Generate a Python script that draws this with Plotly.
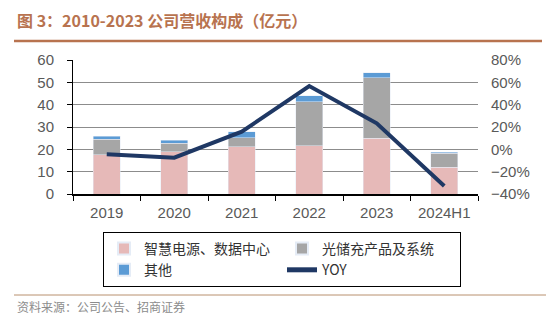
import plotly.graph_objects as go

categories = ["2019", "2020", "2021", "2022", "2023", "2024H1"]
smart_power = [17.5, 19.0, 21.2, 21.5, 24.9, 12.0]
storage = [7.0, 3.7, 4.0, 19.8, 27.2, 6.2]
others = [1.4, 1.3, 2.7, 2.6, 2.1, 0.6]
yoy = [-4.5, -7.5, 15.8, 56.7, 23.3, -32.8]

W, H = 546, 325
L, R, T, B = 73, 478, 60, 194

def px(x):
    return (x - L) / (R - L)

def py(y):
    return (B - y) / (B - T)

fig = go.Figure()
fig.add_bar(x=categories, y=smart_power, name="智慧电源、数据中心", marker_color="#E6B9B8", width=0.4)
fig.add_bar(x=categories, y=storage, name="光储充产品及系统", marker_color="#A6A6A6", width=0.4)
fig.add_bar(x=categories, y=others, name="其他", marker_color="#5B9BD5", width=0.4)
fig.add_scatter(x=categories, y=yoy, name="YOY", mode="lines", yaxis="y2",
                line=dict(color="#1F3864", width=4))

tickfont = dict(family="Liberation Sans, Arial", size=15, color="#595959")

fig.update_layout(
    width=W, height=H,
    margin=dict(l=L, r=W - R, t=T, b=H - B, pad=0),
    paper_bgcolor="white", plot_bgcolor="white",
    barmode="stack", bargap=0.6,
    showlegend=True,
    xaxis=dict(type="category", tickfont=tickfont, showline=True, linecolor="black", linewidth=1.5,
               ticks="outside", tickson="boundaries", ticklen=5, tickcolor="black", showgrid=False,
               ticklabelstandoff=4, fixedrange=True),
    yaxis=dict(range=[0, 60], dtick=10, tickfont=tickfont, showline=True, linecolor="black", linewidth=1,
               ticks="outside", ticklen=5, tickcolor="black", showgrid=True, gridcolor="#8C8C8C",
               gridwidth=1, zeroline=False, ticklabelstandoff=10),
    yaxis2=dict(range=[-40, 80], dtick=20, ticksuffix="%", overlaying="y", side="right",
                tickfont=tickfont, showgrid=False, zeroline=False, showline=False,
                ticklabelstandoff=12),
    legend=dict(orientation="h", x=px(103), y=py(232), xanchor="left", yanchor="top",
                bordercolor="black", borderwidth=1, bgcolor="white",
                font=dict(family="Noto Sans CJK SC", size=14, color="#333333"),
                entrywidth=133, entrywidthmode="pixels", traceorder="normal",
                itemsizing="constant", tracegroupgap=0),
    annotations=[
        dict(text="<b>图 3：2010-2023 公司营收构成（亿元）</b>", xref="paper", yref="paper",
             x=px(15), y=py(20), xanchor="left", yanchor="middle", showarrow=False,
             font=dict(family="Noto Sans CJK SC", size=16, color="#B8734F")),
        dict(text="资料来源：公司公告、招商证券", xref="paper", yref="paper",
             x=px(15), y=py(306), xanchor="left", yanchor="middle", showarrow=False,
             font=dict(family="Noto Sans CJK SC", size=12, color="#8C8C8C")),
    ],
    shapes=[
        dict(type="line", xref="paper", yref="paper", x0=px(14), x1=px(542), y0=py(41), y1=py(41),
             line=dict(color="#B8734F", width=2.5)),
        dict(type="line", xref="paper", yref="paper", x0=px(14), x1=px(546), y0=py(295), y1=py(295),
             line=dict(color="#B8906F", width=1)),
    ],
)

fig.write_html("out.html")
